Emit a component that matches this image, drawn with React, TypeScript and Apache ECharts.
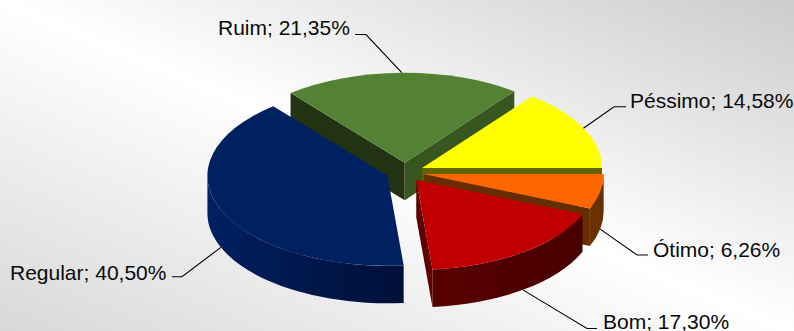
import React, { useEffect, useRef } from "react";
import * as echarts from "echarts";

// Survey shares, clockwise from the 3 o'clock position.
const categories = ["Ótimo", "Bom", "Regular", "Ruim", "Péssimo"];
const shares = [6.26, 17.3, 40.5, 21.35, 14.58];
const shareLabels = ["6,26%", "17,30%", "40,50%", "21,35%", "14,58%"];

// Back-to-front order in which the exploded wedges are painted.
const paintOrder = [3, 4, 0, 2, 1];

const topColors = ["#ff6600", "#c00000", "#002060", "#548235", "#ffff00"];
const curvedWall = [
  ["#6e3200", "#652e00"],
  ["#580000", "#480000"],
  ["#002060", "#000f38"],
  ["#324f1f", "#324f1f"],
  ["#666600", "#666600"],
];
const startWall = ["#662e00", "#4c0000", "#001339", "#223314", "#666600"];
const endWall = ["#662e00", "#5c0000", "#001339", "#38561f", "#666600"];

// Label anchor (left edge, vertical middle) and leader elbow per category.
const labelBoxes = [
  { x: 653, y: 249, elbowA: [637, 255], elbowB: [648, 255] },
  { x: 603, y: 321, elbowA: [587, 328.5], elbowB: [597, 328.5] },
  { x: 10, y: 272, elbowA: [182, 276.7], elbowB: [172, 276.7] },
  { x: 218, y: 27, elbowA: [366, 34.5], elbowB: [355, 34.5] },
  { x: 630, y: 100, elbowA: [614, 106.7], elbowB: [626, 106.7] },
];

const CX = 405;
const CY = 172.2;
const RX = 180;
const RY = 90;
const DEPTH = 37.5;
const EXPLODE = 19;

const total = shares.reduce((a, b) => a + b, 0);
const rad = (deg: number) => (deg * Math.PI) / 180;

function wedge(i: number) {
  const before = shares.slice(0, i).reduce((a, b) => a + b, 0);
  const a0 = (before / total) * 360;
  const a1 = ((before + shares[i]) / total) * 360;
  const mid = (a0 + a1) / 2;
  const ax = CX + EXPLODE * Math.cos(rad(mid));
  const ay = CY + (EXPLODE * Math.sin(rad(mid)) * RY) / RX;
  const rim = (deg: number, drop = 0) => [
    ax + RX * Math.cos(rad(deg)),
    ay + RY * Math.sin(rad(deg)) + drop,
  ];
  return { a0, a1, mid, ax, ay, rim };
}

const renderWedge = (_: any, api: any) => {
  const i = api.value(1) as number;
  const { a0, a1, ax, ay, rim } = wedge(i);
  const children: any[] = [];
  const add = (d: string, fill: any) =>
    children.push({
      type: "path",
      shape: { pathData: d },
      style: { fill, stroke: "none" },
    });
  const quad = (deg: number, fill: string) => {
    const t = rim(deg);
    const b = rim(deg, DEPTH);
    add(
      `M${ax} ${ay}L${t[0]} ${t[1]}L${b[0]} ${b[1]}L${ax} ${ay + DEPTH}Z`,
      fill,
    );
  };
  if (-Math.cos(rad(a0)) > 0) quad(a0, startWall[i]);
  if (Math.cos(rad(a1)) > 0) quad(a1, endWall[i]);

  // Outer wall: only the near half of the rim faces the viewer.
  const w0 = Math.max(a0, 0);
  const w1 = Math.min(a1, 180);
  if (w1 > w0) {
    const t0 = rim(w0);
    const t1 = rim(w1);
    const b0 = rim(w0, DEPTH);
    const b1 = rim(w1, DEPTH);
    // The gradient runs left to right, so the wedge's far end of the arc comes first.
    add(
      `M${t0[0]} ${t0[1]}A${RX} ${RY} 0 0 1 ${t1[0]} ${t1[1]}L${b1[0]} ${b1[1]}A${RX} ${RY} 0 0 0 ${b0[0]} ${b0[1]}Z`,
      {
        type: "linear",
        x: 0,
        y: 0,
        x2: 1,
        y2: 0,
        colorStops: [
          { offset: 0, color: curvedWall[i][0] },
          { offset: 1, color: curvedWall[i][1] },
        ],
      },
    );
  }

  // Top face.
  const p0 = rim(a0);
  const p1 = rim(a1);
  const large = a1 - a0 > 180 ? 1 : 0;
  add(
    `M${ax} ${ay}L${p0[0]} ${p0[1]}A${RX} ${RY} 0 ${large} 1 ${p1[0]} ${p1[1]}Z`,
    topColors[i],
  );
  return { type: "group", children };
};

const renderLabel = (_: any, api: any) => {
  const i = api.value(1) as number;
  const { mid, rim } = wedge(i);
  const box = labelBoxes[i];
  const facesViewer = Math.sin(rad(mid)) > 0;
  const anchor = rim(mid, facesViewer ? DEPTH : 0);
  return {
    type: "group",
    children: [
      {
        type: "polyline",
        shape: { points: [anchor, box.elbowA, box.elbowB] },
        style: { stroke: "#000000", lineWidth: 1.1, fill: "none" },
      },
      {
        type: "text",
        style: {
          x: box.x,
          y: box.y,
          text: `${categories[i]}; ${shareLabels[i]}`,
          fill: "#0a0a0a",
          font: '21px "Liberation Sans", Arial, sans-serif',
          textAlign: "left",
          textVerticalAlign: "middle",
        },
      },
    ],
  };
};

export default function App() {
  const ref = useRef<HTMLDivElement>(null);
  useEffect(() => {
    document.body.style.margin = "0";
    const chart = echarts.init(ref.current!, undefined, { renderer: "svg" });
    chart.setOption({
      animation: false,
      backgroundColor: {
        type: "linear",
        x: 1,
        y: 0,
        x2: 0,
        y2: 1,
        colorStops: [
          { offset: 0, color: "#cccccc" },
          { offset: 0.5, color: "#ffffff" },
          { offset: 1, color: "#d8d8d8" },
        ],
      },
      series: [
        {
          type: "custom",
          coordinateSystem: "none",
          renderItem: renderWedge,
          silent: true,
          data: paintOrder.map((i) => [shares[i], i]),
          z: 2,
        },
        {
          type: "custom",
          coordinateSystem: "none",
          renderItem: renderLabel,
          silent: true,
          data: paintOrder.map((i) => [shares[i], i]),
          z: 3,
        },
      ],
    });
    return () => chart.dispose();
  }, []);
  return <div ref={ref} style={{ width: 794, height: 331 }} />;
}
